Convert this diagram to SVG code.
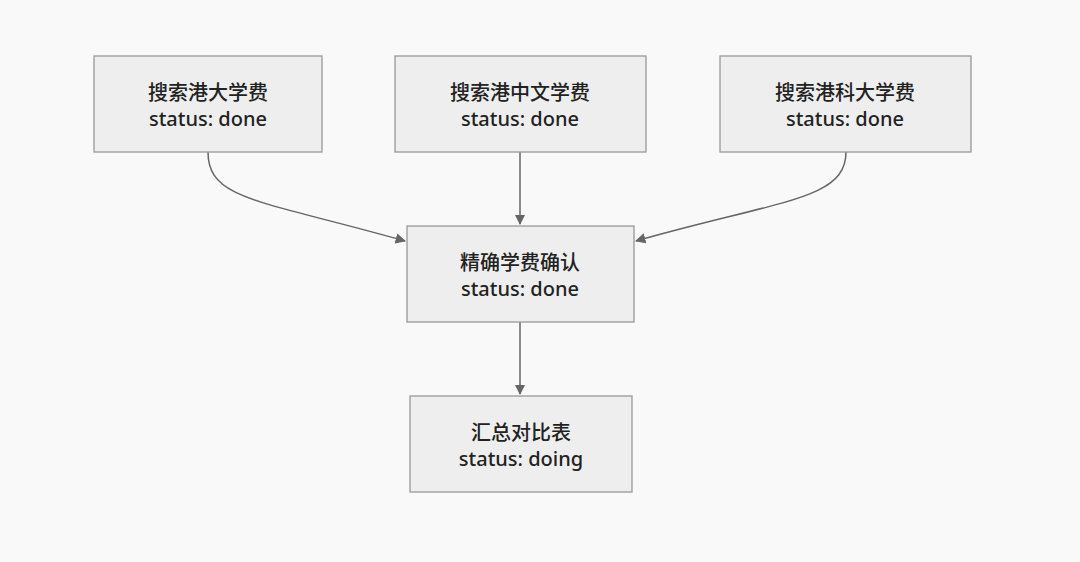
<svg xmlns="http://www.w3.org/2000/svg" width="1080" height="562" viewBox="0 0 1080 562">
<style>
.n{fill:#eeeeee;stroke:#999999;stroke-width:1.3}
.t{font-family:"Noto Sans","Noto Sans CJK SC",sans-serif;font-size:20px;font-weight:500;fill:#222;text-anchor:middle}
.c{fill:none;stroke:#666;stroke-width:1.5;marker-end:url(#a)}
</style>
<defs><marker id="a" viewBox="0 0 10 10" refX="9" refY="5" markerWidth="7" markerHeight="7" orient="auto"><path d="M0,0L10,5L0,10z" fill="#666"/></marker></defs>
<rect width="1080" height="562" fill="#f9f9f9"/>
<g id="connectors">
<path class="c" d="M208,152 C208,200 260,200 405,241"/>
<path class="c" d="M520,152 L520,224"/>
<path class="c" d="M846,152 C846,200 780,200 636,241"/>
<path class="c" d="M520,322 L520,394"/>
</g>
<g id="n1"><rect class="n" x="94" y="56" width="228" height="96"/><text class="t" x="208" y="100">搜索港大学费</text><text class="t" x="208" y="126">status: done</text></g>
<g id="n2"><rect class="n" x="395" y="56" width="251" height="96"/><text class="t" x="520" y="100">搜索港中文学费</text><text class="t" x="520" y="126">status: done</text></g>
<g id="n3"><rect class="n" x="720" y="56" width="251" height="96"/><text class="t" x="845" y="100">搜索港科大学费</text><text class="t" x="845" y="126">status: done</text></g>
<g id="n4"><rect class="n" x="407" y="226" width="227" height="96"/><text class="t" x="520" y="270">精确学费确认</text><text class="t" x="520" y="296">status: done</text></g>
<g id="n5"><rect class="n" x="410" y="396" width="222" height="96"/><text class="t" x="521" y="440">汇总对比表</text><text class="t" x="521" y="466">status: doing</text></g>
</svg>
